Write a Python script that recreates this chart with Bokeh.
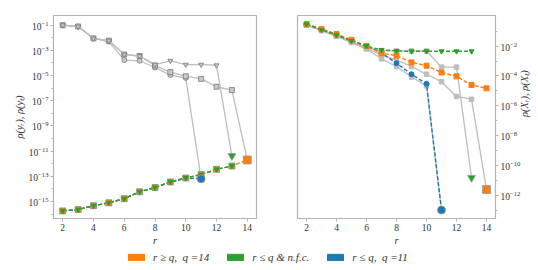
import math
from bokeh.plotting import figure
from bokeh.layouts import column, row
from bokeh.models import FixedTicker, Range1d, Legend, LegendItem
from bokeh.embed import file_html
from bokeh.resources import INLINE

# ---------------- data: left panel ----------------
xl_circ = [2, 3, 4, 5, 6, 7, 8, 9, 10, 11]
yl_circ = [1.0e-1, 7.9e-2, 8.9e-3, 5.0e-3, 1.7e-4, 1.5e-4, 4.4e-5, 1.1e-5, 6.6e-6, 6.3e-14]
xl_sq = [2, 3, 4, 5, 6, 7, 8, 9, 10, 11, 12, 13, 14]
yl_sq = [1.0e-1, 7.9e-2, 8.9e-3, 6.0e-3, 4.7e-4, 3.6e-4, 6.3e-5, 1.9e-5, 8.9e-6, 5.5e-6, 1.3e-6, 7.1e-7, 2.0e-12]
xl_tri = [2, 3, 4, 5, 6, 7, 8, 9, 10, 11, 12, 13]
yl_tri = [1.0e-1, 7.9e-2, 8.9e-3, 6.0e-3, 4.7e-4, 3.6e-4, 7.4e-5, 1.5e-4, 7.4e-5, 7.4e-5, 6.6e-5, 4.2e-12]

xl_orange = [2, 3, 4, 5, 6, 7, 8, 9, 10, 11, 12, 13, 14]
yl_orange = [1.8e-16, 2.3e-16, 4.7e-16, 7.9e-16, 1.7e-15, 5.9e-15, 1.3e-14, 3.6e-14, 7.4e-14, 1.4e-13, 3.6e-13, 6.6e-13, 2.0e-12]
xl_green = [2, 3, 4, 5, 6, 7, 8, 9, 10, 11, 12, 13]
yl_green = [1.8e-16, 2.3e-16, 4.7e-16, 7.9e-16, 1.7e-15, 5.9e-15, 1.3e-14, 3.6e-14, 7.4e-14, 1.4e-13, 3.6e-13, 6.6e-13]
xl_blue = [2, 3, 4, 5, 6, 7, 8, 9, 10, 11]
yl_blue = [1.8e-16, 2.3e-16, 4.7e-16, 7.9e-16, 1.7e-15, 5.9e-15, 1.3e-14, 3.6e-14, 7.4e-14, 6.3e-14]
left_end_x = {"orange": 14, "green": 13, "blue": 11}
left_end_y = {"orange": 2.0e-12, "green": 4.2e-12, "blue": 6.3e-14}

# ---------------- data: right panel ----------------
xr_green = [2, 3, 4, 5, 6, 7, 8, 9, 10, 11, 12, 13]
yr_green = [2.9e-1, 1.2e-1, 5.6e-2, 2.2e-2, 1.0e-2, 5.5e-3, 4.7e-3, 4.5e-3, 4.5e-3, 4.5e-3, 4.5e-3, 4.5e-3]
xr_orange = [2, 3, 4, 5, 6, 7, 8, 9, 10, 11, 12, 13, 14]
yr_orange = [2.9e-1, 1.4e-1, 6.3e-2, 2.6e-2, 1.0e-2, 3.3e-3, 2.3e-3, 8.1e-4, 4.9e-4, 1.7e-4, 9.5e-5, 2.5e-5, 1.5e-5]
xr_blue = [2, 3, 4, 5, 6, 7, 8, 9, 10, 11]
yr_blue = [2.9e-1, 1.3e-1, 5.6e-2, 2.4e-2, 1.0e-2, 3.5e-3, 7.1e-4, 1.3e-4, 3.0e-5, 1.1e-13]
xr_grayA = [2, 3, 4, 5, 6, 7, 8, 9, 10, 11, 12, 13]
yr_grayA = [2.5e-1, 1.1e-1, 5.0e-2, 2.0e-2, 7.9e-3, 5.0e-3, 4.7e-3, 4.7e-3, 4.7e-3, 3.9e-4, 3.9e-4, 1.6e-11]
xr_grayB = [2, 3, 4, 5, 6, 7, 8, 9, 10, 11, 12, 13, 14]
yr_grayB = [2.5e-1, 1.1e-1, 4.5e-2, 1.8e-2, 7.1e-3, 2.5e-3, 1.2e-3, 4.3e-4, 1.3e-4, 4.1e-5, 4.3e-6, 2.8e-6, 2.6e-12]
xr_grayC = [2, 3, 4, 5, 6, 7, 8, 9, 10, 11]
yr_grayC = [2.5e-1, 1.1e-1, 4.5e-2, 1.7e-2, 6.3e-3, 1.4e-3, 4.3e-4, 8.5e-5, 2.2e-5, 1.1e-13]
right_end_x = {"orange": 14, "green": 13, "blue": 11}
right_end_y = {"orange": 2.6e-12, "green": 1.6e-11, "blue": 1.1e-13}

x_ticks = [2, 4, 6, 8, 10, 12, 14]
left_ticks = [1e-1, 1e-3, 1e-5, 1e-7, 1e-9, 1e-11, 1e-13, 1e-15]
left_minor = [1e-2, 1e-4, 1e-6, 1e-8, 1e-10, 1e-12, 1e-14, 1e-16]
right_ticks = [1e-2, 1e-4, 1e-6, 1e-8, 1e-10, 1e-12]
right_minor = [1e-1, 1e-3, 1e-5, 1e-7, 1e-9, 1e-11, 1e-13]

legend_labels = ["r ≥ q,  q =14", "r ≤ q & n.f.c.", "r ≤ q,  q =11"]

ORANGE = "#ff7f0e"
GREEN = "#2ca02c"
BLUE = "#1f77b4"
GRAY = "#bdbdbd"
FRAME = "#b3b3b3"
SERIF = "Liberation Serif"


def style(p, ylabel):
    p.grid.visible = False
    p.outline_line_color = FRAME
    p.outline_line_width = 1.2
    p.background_fill_color = "white"
    p.border_fill_color = "white"
    for ax in p.xaxis + p.yaxis:
        ax.axis_line_color = FRAME
        ax.major_tick_line_color = FRAME
        ax.minor_tick_line_color = FRAME
        ax.major_tick_in = 0
        ax.major_tick_out = 3
        ax.minor_tick_in = 0
        ax.minor_tick_out = 2
        ax.major_label_text_font = SERIF
        ax.major_label_text_font_size = "9.5px"
        ax.major_label_text_color = "#333333"
        ax.major_label_standoff = 2
        ax.axis_label_text_font = SERIF
        ax.axis_label_text_font_style = "italic"
        ax.axis_label_text_font_size = "10.5px"
        ax.axis_label_text_color = "#333333"
        ax.axis_label_standoff = 1
    p.xaxis.ticker = FixedTicker(ticks=x_ticks)
    p.xaxis.axis_label = "r"
    p.yaxis.axis_label = ylabel


# ---------------- left figure ----------------
p1 = figure(width=276, height=248, y_axis_type="log",
            x_range=Range1d(1.4, 14.6), y_range=Range1d(4.5e-17, 0.59),
            min_border_left=53, min_border_right=20, min_border_top=15, min_border_bottom=22,
            output_backend="svg", toolbar_location=None)
style(p1, "ρ(yᵣ), ρ(yₜ)")
p1.yaxis.ticker = FixedTicker(ticks=left_ticks, minor_ticks=left_minor)

for xs, ys, mk in [(xl_circ, yl_circ, "circle"), (xl_sq, yl_sq, "square"), (xl_tri, yl_tri, "inverted_triangle")]:
    p1.line(xs, ys, line_color=GRAY, line_width=1.3)
    p1.scatter(xs[:-1], ys[:-1], marker=mk, size=5, fill_color="#c8c8c8", line_color="#7a7a7a", line_width=0.8)

p1.line(xl_orange, yl_orange, line_color=ORANGE, line_width=1.4, line_dash="4 2")
p1.line(xl_blue, yl_blue, line_color=BLUE, line_width=1.4, line_dash="4 2")
p1.line(xl_green, yl_green, line_color=GREEN, line_width=1.4, line_dash="4 2")
p1.scatter(xl_orange[:-1], yl_orange[:-1], marker="square", size=6, fill_color=ORANGE, line_color="#8a8a8a", line_width=0.8)
p1.scatter(xl_green, yl_green, marker="inverted_triangle", size=5, fill_color=GREEN, line_color=GREEN)
for c, col in [("blue", BLUE), ("green", GREEN), ("orange", ORANGE)]:
    mk = {"blue": "circle", "green": "inverted_triangle", "orange": "square"}[c]
    p1.scatter([left_end_x[c]], [left_end_y[c]], marker=mk, size=8, fill_color=col, line_color="#999999", line_width=0.8)

# ---------------- right figure ----------------
p2 = figure(width=262, height=248, y_axis_type="log", y_axis_location="right",
            x_range=Range1d(1.4, 14.6), y_range=Range1d(3.0e-14, 1.1),
            min_border_left=21, min_border_right=39, min_border_top=15, min_border_bottom=22,
            output_backend="svg", toolbar_location=None)
style(p2, "ρ(Xᵣ), ρ(Xₜ)")
p2.yaxis.ticker = FixedTicker(ticks=right_ticks, minor_ticks=right_minor)
p2.yaxis.axis_label_orientation = math.pi / 2

for xs, ys in [(xr_grayA, yr_grayA), (xr_grayB, yr_grayB), (xr_grayC, yr_grayC)]:
    p2.line(xs, ys, line_color=GRAY, line_width=1.3)
    p2.scatter(xs[:-1], ys[:-1], marker="square", size=4.5, fill_color=GRAY, line_color=GRAY)

p2.line(xr_blue, yr_blue, line_color=BLUE, line_width=1.4, line_dash="4 2")
p2.line(xr_orange, yr_orange, line_color=ORANGE, line_width=1.4, line_dash="4 2")
p2.line(xr_green, yr_green, line_color=GREEN, line_width=1.4, line_dash="4 2")
p2.scatter(xr_blue[:-1], yr_blue[:-1], marker="circle", size=5, fill_color=BLUE, line_color=BLUE)
p2.scatter(xr_orange, yr_orange, marker="square", size=5, fill_color=ORANGE, line_color=ORANGE)
p2.scatter(xr_green, yr_green, marker="inverted_triangle", size=5, fill_color=GREEN, line_color=GREEN)
for c, col in [("blue", BLUE), ("green", GREEN), ("orange", ORANGE)]:
    mk = {"blue": "circle", "green": "inverted_triangle", "orange": "square"}[c]
    p2.scatter([right_end_x[c]], [right_end_y[c]], marker=mk, size=8, fill_color=col, line_color="#999999", line_width=0.8)

# ---------------- legend strip ----------------
p3 = figure(width=538, height=16, x_range=Range1d(0, 1), y_range=Range1d(0, 1),
            min_border=0, output_backend="svg", toolbar_location=None)
p3.axis.visible = False
p3.grid.visible = False
p3.outline_line_color = None
items = []
for lab, col in zip(legend_labels, [ORANGE, GREEN, BLUE]):
    r = p3.quad(left=[5], right=[6], top=[5], bottom=[4], fill_color=col, line_color=col)
    items.append(LegendItem(label=lab, renderers=[r]))
leg = Legend(items=items, orientation="horizontal", location=(126, 1),
             glyph_width=20, glyph_height=8, label_standoff=7, spacing=16,
             padding=0, margin=0, border_line_color=None, background_fill_alpha=0,
             label_text_font=SERIF, label_text_font_style="italic",
             label_text_font_size="11px", label_text_color="#333333")
p3.add_layout(leg, "center")

layout = column(row(p1, p2), p3)
open("out.html", "w").write(file_html(layout, INLINE))
